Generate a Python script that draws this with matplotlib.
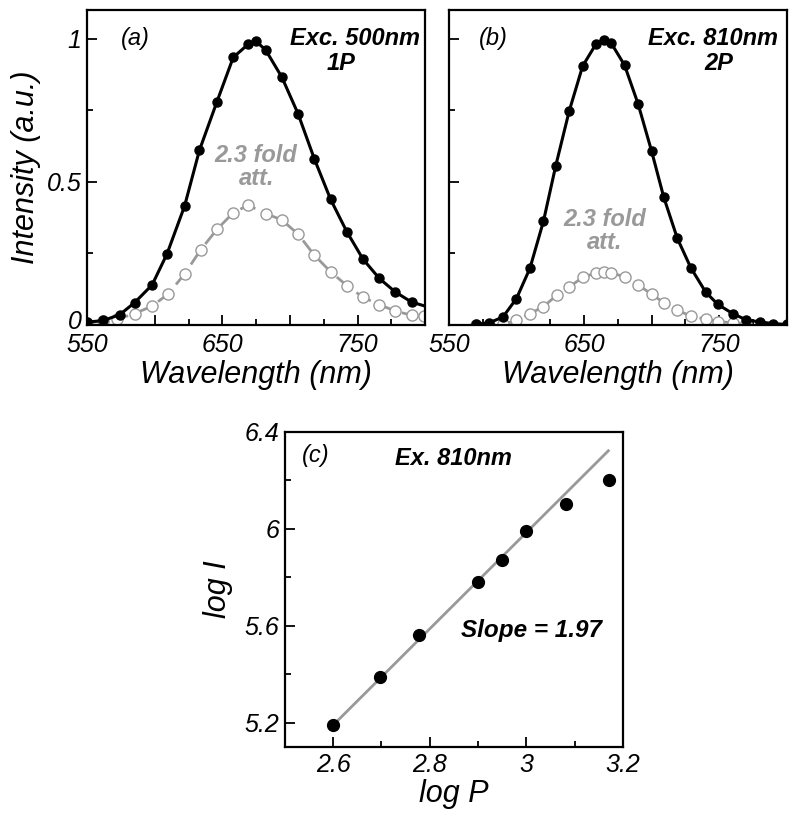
import matplotlib
matplotlib.use('Agg')
import matplotlib.pyplot as plt
from matplotlib.ticker import MultipleLocator
from matplotlib.transforms import ScaledTranslation

plt.rcParams['font.family'] = ['Liberation Sans', 'DejaVu Sans']

# Panel (a): one-photon excitation at 500 nm
a_black_x = [550, 562, 574, 585, 598, 609, 622, 633, 646, 658, 669, 675, 682, 694, 706, 718, 730, 742, 754, 766, 778, 790, 800]
a_black_y = [0.01, 0.016, 0.036, 0.078, 0.14, 0.248, 0.415, 0.61, 0.78, 0.934, 0.98, 0.99, 0.96, 0.865, 0.737, 0.58, 0.439, 0.326, 0.23, 0.163, 0.115, 0.08, 0.066]
a_gray_x = [550, 562, 572, 585, 598, 610, 622, 634, 646, 658, 669, 682, 694, 706, 718, 730, 742, 754, 766, 778, 790, 799]
a_gray_y = [0.008, 0.013, 0.02, 0.04, 0.066, 0.109, 0.178, 0.263, 0.334, 0.392, 0.418, 0.389, 0.367, 0.317, 0.244, 0.186, 0.138, 0.097, 0.071, 0.049, 0.034, 0.03]

# Panel (b): two-photon excitation at 810 nm
b_black_x = [570, 580, 590, 600, 610, 620, 629, 639, 649, 659, 665, 670, 680, 690, 700, 709, 719, 729, 740, 749, 760, 770, 780, 790, 800]
b_black_y = [0.002, 0.008, 0.028, 0.092, 0.198, 0.362, 0.554, 0.746, 0.904, 0.982, 0.996, 0.985, 0.907, 0.772, 0.607, 0.446, 0.303, 0.2, 0.115, 0.072, 0.04, 0.018, 0.011, 0.005, 0.002]
b_gray_x = [570, 580, 590, 600, 610, 620, 630, 639, 649, 659, 665, 670, 680, 690, 700, 709, 719, 729, 740, 749, 760, 770]
b_gray_y = [0.0, 0.0, 0.002, 0.016, 0.04, 0.064, 0.105, 0.133, 0.166, 0.183, 0.186, 0.183, 0.168, 0.14, 0.108, 0.078, 0.051, 0.032, 0.02, 0.012, 0.008, 0.005]

# Panel (c): power dependence
logP = [2.6, 2.697, 2.778, 2.9, 2.95, 3.0, 3.082, 3.171]
logI = [5.19, 5.39, 5.561, 5.779, 5.87, 5.993, 6.101, 6.203]
fit_x = [2.605, 3.17]
fit_y = [5.2, 6.322]

wl_ticks = [550, 600, 650, 700, 750, 800]
wl_labels = ['550', '', '650', '', '750', '']

black = 'black'
gray = '#999999'
label_fs = 22
tick_fs = 18
note_fs = 17

fig = plt.figure(figsize=(8, 8.25), dpi=100, facecolor='white')
ax_a = fig.add_axes([0.109, 0.606, 0.4225, 0.382])
ax_b = fig.add_axes([0.561, 0.606, 0.4225, 0.382])
ax_c = fig.add_axes([0.356, 0.0945, 0.4225, 0.382])


def style(ax):
    for s in ax.spines.values():
        s.set_linewidth(1.6)
    ax.tick_params(which='both', direction='in', width=1.3, labelsize=tick_fs, pad=4)
    ax.tick_params(which='major', length=7)
    ax.tick_params(which='minor', length=4)
    for lab in ax.get_xticklabels() + ax.get_yticklabels():
        lab.set_fontstyle('italic')


# (a)
ax_a.plot(a_gray_x, a_gray_y, color=gray, lw=2, ls=(0, (6, 3)), marker='o', ms=8,
          mfc='white', mec=gray, mew=1, zorder=2)
ax_a.plot(a_black_x, a_black_y, color=black, lw=2.2, marker='o', ms=6.5,
          markevery=list(range(len(a_black_x) - 1)), zorder=3)
ax_a.set_xlim(550, 800)
ax_a.set_ylim(0, 1.1)
ax_a.set_xticks(wl_ticks)
ax_a.set_xticklabels(wl_labels)
ax_a.xaxis.set_minor_locator(MultipleLocator(25))
ax_a.set_yticks([0, 0.5, 1])
ax_a.set_yticklabels(['0', '0.5', '1'])
ax_a.yaxis.set_minor_locator(MultipleLocator(0.25))
ax_a.set_xlabel('Wavelength (nm)', fontsize=label_fs, fontstyle='italic', labelpad=2)
ax_a.set_ylabel('Intensity (a.u.)', fontsize=label_fs, fontstyle='italic', labelpad=4)
style(ax_a)
ax_a.tick_params(axis='x', pad=6)
# lift the "0" a little so it clears the "550" below it
zero_lab = ax_a.get_yticklabels()[0]
zero_lab.set_transform(zero_lab.get_transform() + ScaledTranslation(0, 4 / 72, fig.dpi_scale_trans))
ax_a.text(0.1, 0.91, '(a)', transform=ax_a.transAxes, fontsize=note_fs, fontstyle='italic', va='center')
ax_a.text(0.985, 0.91, 'Exc. 500nm', transform=ax_a.transAxes, fontsize=note_fs,
          fontweight='bold', fontstyle='italic', ha='right', va='center')
ax_a.text(0.75, 0.83, '1P', transform=ax_a.transAxes, fontsize=note_fs,
          fontweight='bold', fontstyle='italic', ha='center', va='center')
ax_a.text(0.5, 0.5, '2.3 fold\natt.', transform=ax_a.transAxes, fontsize=note_fs,
          fontweight='bold', fontstyle='italic', ha='center', va='center', color=gray,
          linespacing=1.0)

# (b)
ax_b.plot(b_gray_x, b_gray_y, color=gray, lw=2, ls=(0, (6, 3)), marker='o', ms=8,
          mfc='white', mec=gray, mew=1, zorder=2)
ax_b.plot(b_black_x, b_black_y, color=black, lw=2.2, marker='o', ms=6.5, zorder=3)
ax_b.set_xlim(550, 800)
ax_b.set_ylim(0, 1.1)
ax_b.set_xticks(wl_ticks)
ax_b.set_xticklabels(wl_labels)
ax_b.xaxis.set_minor_locator(MultipleLocator(25))
ax_b.set_yticks([0, 0.5, 1])
ax_b.yaxis.set_minor_locator(MultipleLocator(0.25))
ax_b.set_xlabel('Wavelength (nm)', fontsize=label_fs, fontstyle='italic', labelpad=2)
style(ax_b)
ax_b.tick_params(axis='x', pad=6)
ax_b.set_yticklabels([])
ax_b.text(0.09, 0.91, '(b)', transform=ax_b.transAxes, fontsize=note_fs, fontstyle='italic', va='center')
ax_b.text(0.975, 0.91, 'Exc. 810nm', transform=ax_b.transAxes, fontsize=note_fs,
          fontweight='bold', fontstyle='italic', ha='right', va='center')
ax_b.text(0.8, 0.83, '2P', transform=ax_b.transAxes, fontsize=note_fs,
          fontweight='bold', fontstyle='italic', ha='center', va='center')
ax_b.text(0.46, 0.3, '2.3 fold\natt.', transform=ax_b.transAxes, fontsize=note_fs,
          fontweight='bold', fontstyle='italic', ha='center', va='center', color=gray,
          linespacing=1.0)

# (c)
ax_c.plot(fit_x, fit_y, color=gray, lw=2, zorder=2)
ax_c.plot(logP, logI, ls='none', marker='o', ms=8.5, color=black, zorder=3)
ax_c.set_xlim(2.5, 3.2)
ax_c.set_ylim(5.1, 6.4)
ax_c.set_xticks([2.6, 2.8, 3.0, 3.2])
ax_c.set_xticklabels(['2.6', '2.8', '3', '3.2'])
ax_c.xaxis.set_minor_locator(MultipleLocator(0.1))
ax_c.set_yticks([5.2, 5.6, 6.0, 6.4])
ax_c.set_yticklabels(['5.2', '5.6', '6', '6.4'])
ax_c.yaxis.set_minor_locator(MultipleLocator(0.2))
ax_c.set_xlabel('log P', fontsize=label_fs, fontstyle='italic', labelpad=2)
ax_c.set_ylabel('log I', fontsize=label_fs, fontstyle='italic', labelpad=8)
style(ax_c)
ax_c.text(0.05, 0.925, '(c)', transform=ax_c.transAxes, fontsize=note_fs, fontstyle='italic', va='center')
ax_c.text(0.5, 0.915, 'Ex. 810nm', transform=ax_c.transAxes, fontsize=note_fs,
          fontweight='bold', fontstyle='italic', ha='center', va='center')
ax_c.text(0.73, 0.37, 'Slope = 1.97', transform=ax_c.transAxes, fontsize=17.5,
          fontweight='bold', fontstyle='italic', ha='center', va='center')

fig.savefig('out.png', dpi=100, facecolor='white')
